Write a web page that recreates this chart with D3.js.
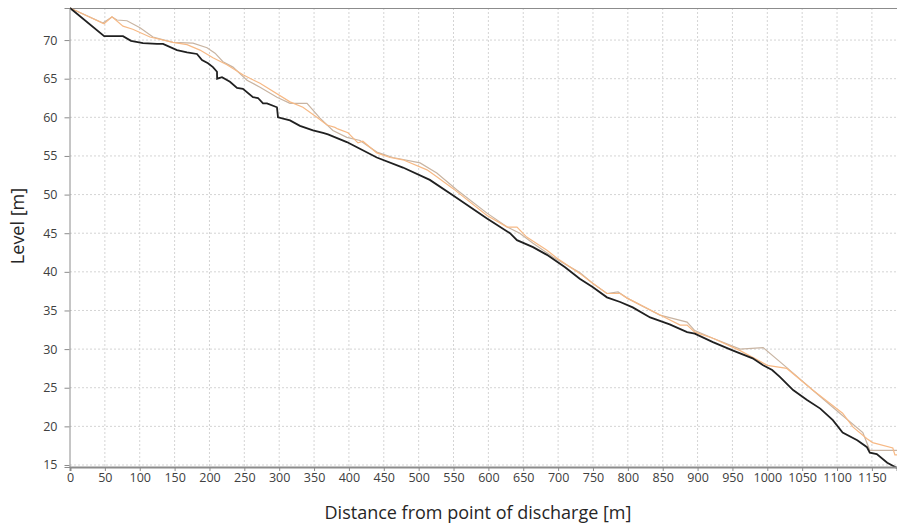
<!DOCTYPE html>
<html><head><meta charset="utf-8">
<script src="https://cdn.jsdelivr.net/npm/d3@7"></script>
<style>body{margin:0;background:#fff}svg{display:block}text{font-family:"Open Sans","Liberation Sans",sans-serif}</style>
</head><body><svg id="c" width="897" height="524"></svg>
<script>
const xTicks = d3.range(0, 1151, 50);
const yTicks = [15,20,25,30,35,40,45,50,55,60,65,70];

const blackX = [0,49,76,87.5,104.7,124.8,133.4,153.4,167.8,182.1,189.3,197.9,205,210.8,211,218,229.4,239.5,248,262.4,269.6,276.8,282.5,296.8,298.3,315.5,329.8,348.5,362.8,370,397,440,477.5,516,549,598,631,641,664,684,710,731,750,770,789,807,832,860,885,896,922,951,979,994,1007,1018,1037,1057,1076,1094,1108,1129,1143,1147,1157,1172,1186];
const blackY = [74.15,70.5,70.5,69.9,69.6,69.5,69.5,68.7,68.4,68.2,67.4,67.0,66.5,65.9,65.0,65.2,64.6,63.8,63.7,62.6,62.5,61.8,61.8,61.3,60.0,59.6,58.9,58.3,58.0,57.8,56.8,54.8,53.5,51.9,49.9,46.9,45.0,44.1,43.2,42.2,40.6,39.1,38.0,36.7,36.1,35.4,34.1,33.2,32.2,32.0,30.9,29.8,28.8,27.9,27.3,26.4,24.7,23.4,22.3,20.8,19.2,18.2,17.3,16.6,16.4,15.3,14.6];

const tanX = [0,47.3,60.2,67.4,81.7,100.4,119,147.7,176.4,196.5,208,219.4,233.7,253.8,272.5,296.8,315.5,339.9,358.5,377,397,416,440,463,502,526,555,598,627,645,664,693,731,750,770,786,799,846,885,896,922,961,994,1028,1065,1104,1137,1147,1186];
const tanY = [74.15,72.2,73.0,72.6,72.5,71.6,70.4,69.7,69.6,69.0,68.3,67.2,66.5,64.8,63.9,62.6,61.8,61.8,59.9,58.3,57.4,57.0,55.5,54.8,54.1,52.8,50.6,47.6,45.8,45.0,43.7,41.9,39.9,38.5,37.2,37.4,36.6,34.4,33.5,32.4,31.4,30.0,30.2,27.6,24.7,21.7,19.2,16.9,16.9];

const orangeX = [0,48.8,60.2,76,90,114.7,147.7,167.8,186.4,205,225,248,272.5,315.5,334,354,368.5,380,384,398.6,413,420,440,459,477.5,512,526,549,598,627,641,655,684,698,731,750,770,789,799,842,875,885,896,922,961,1000,1028,1065,1108,1123,1143,1151,1180,1183,1186];
const orangeY = [74.15,72.1,73.0,71.8,71.4,70.4,69.7,69.4,68.7,67.7,66.8,65.5,64.4,62.0,61.3,60.0,59.0,58.7,58.5,58.0,56.7,56.9,55.4,54.8,54.5,53.2,52.3,50.8,47.3,45.8,45.8,44.5,42.8,41.8,39.8,38.5,37.2,37.2,36.6,34.6,33.1,33.1,32.2,31.4,29.8,27.9,27.5,24.7,21.7,19.9,18.4,17.9,17.2,16.3,16.3];

const svg = d3.select("#c");
const x = d3.scaleLinear().domain([0, 1186]).range([70, 897]);
const y = d3.scaleLinear().domain([14.74, 74.15]).range([467, 8]);

// grid
svg.append("g").selectAll("line").data(xTicks.slice(1)).join("line")
  .attr("x1", d => x(d)).attr("x2", d => x(d)).attr("y1", 8).attr("y2", 467)
  .attr("stroke", "#d4d4d4").attr("stroke-dasharray", "2,2");
svg.append("g").selectAll("line").data(yTicks).join("line")
  .attr("x1", 70).attr("x2", 897).attr("y1", d => y(d)).attr("y2", d => y(d))
  .attr("stroke", "#d4d4d4").attr("stroke-dasharray", "2,2");

// top border
svg.append("line").attr("x1", 69).attr("x2", 897).attr("y1", 8.5).attr("y2", 8.5).attr("stroke", "#8c8c8c");

const line = (xs, ys) => d3.line().x((d,i) => x(xs[i])).y((d,i) => y(ys[i]))(xs);
svg.append("path").attr("d", line(tanX, tanY)).attr("fill", "none").attr("stroke", "#c8b4a2").attr("stroke-width", 1.2);
svg.append("path").attr("d", line(orangeX, orangeY)).attr("fill", "none").attr("stroke", "#f7b985").attr("stroke-width", 1.2);
svg.append("path").attr("d", line(blackX, blackY)).attr("fill", "none").attr("stroke", "#202020").attr("stroke-width", 1.8);

// axes
const xa = svg.append("g").attr("transform", "translate(0,467)")
  .call(d3.axisBottom(x).tickValues(xTicks).tickSize(4).tickPadding(2).tickFormat(d3.format("d")));
const ya = svg.append("g").attr("transform", "translate(69.5,0)")
  .call(d3.axisLeft(y).tickValues(yTicks).tickSize(5).tickPadding(7).tickFormat(d3.format("d")));
[xa, ya].forEach(a => {
  a.select(".domain").attr("stroke", "#8c8c8c");
  a.selectAll(".tick line").attr("stroke", "#8c8c8c");
  a.selectAll(".tick text").attr("fill", "#404040").attr("font-size", 12.5);
});
xa.select(".domain").attr("stroke-width", 2);

svg.append("text").attr("x", 478).attr("y", 519).attr("text-anchor", "middle")
  .attr("font-size", 18).attr("fill", "#262626").text("Distance from point of discharge [m]");
svg.append("text").attr("transform", "translate(24,226) rotate(-90)").attr("text-anchor", "middle")
  .attr("font-size", 18).attr("fill", "#262626").text("Level [m]");
</script></body></html>
